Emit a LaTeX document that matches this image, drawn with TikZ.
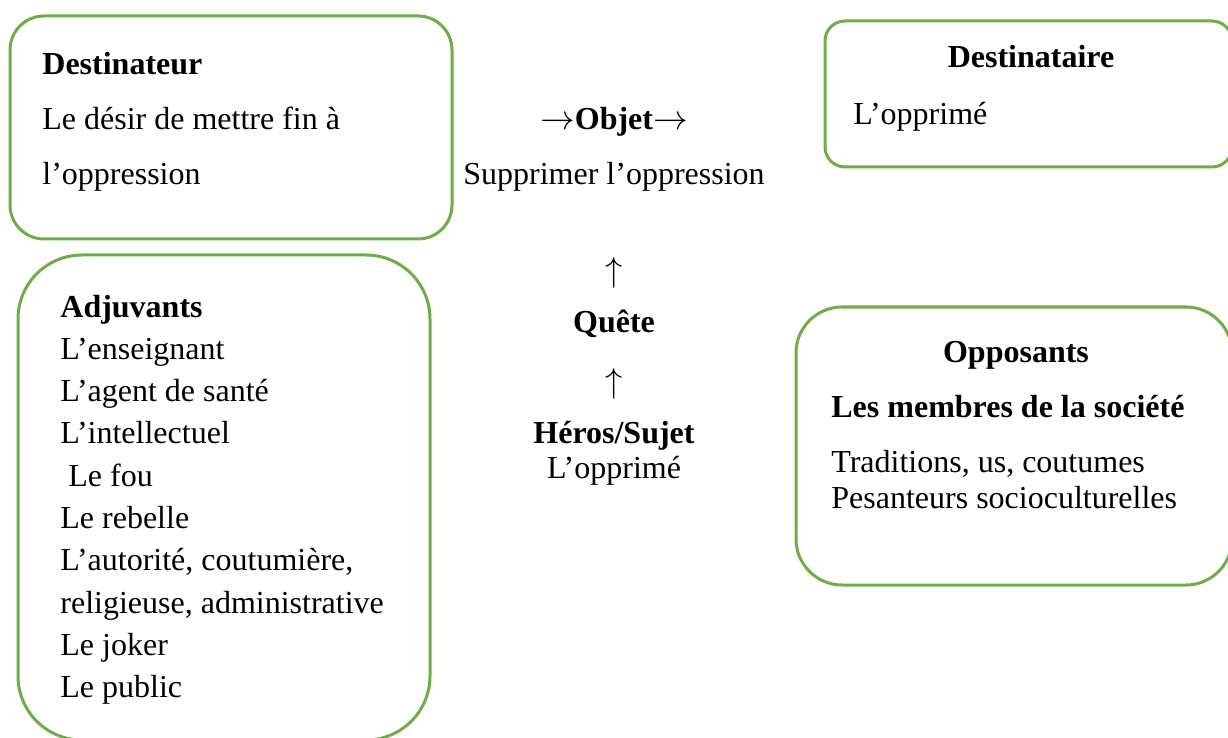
\documentclass[tikz,border=0pt]{standalone}
\usepackage{fontspec}
\setmainfont{Liberation Serif}
\usetikzlibrary{positioning}
\definecolor{vertcadre}{HTML}{70AD47}

\begin{document}
\begin{tikzpicture}[x=0.5pt,y=-0.5pt,
    cadre/.style={draw=vertcadre, line width=1.5pt},
    ligne/.style={anchor=base west, inner sep=0pt, font=\fontsize{16pt}{20pt}\selectfont},
    centre/.style={anchor=base, inner sep=0pt, font=\fontsize{16pt}{20pt}\selectfont}]
        \useasboundingbox (0,0) rectangle (1228,738);

        % Cadres arrondis
        \draw[cadre, rounded corners=17pt] (10,16) rectangle (452,239);    % destinateur
        \draw[cadre, rounded corners=10pt] (825,21) rectangle (1232,167);  % destinataire
        \draw[cadre, rounded corners=32pt] (18,255) rectangle (430,740);   % adjuvants
        \draw[cadre, rounded corners=23pt] (796,307) rectangle (1232,585); % opposants

        % Destinateur
        \node[ligne] (dest) at (42,75) {\textbf{Destinateur}};
        \node[ligne] (dest1) at (42,130) {Le désir de mettre fin à};
        \node[ligne] (dest2) at (42,185) {l’oppression};

        % Destinataire
        \node[centre] (desti) at (1031,68) {\textbf{Destinataire}};
        \node[ligne] (desti1) at (853,125) {L’opprimé};

        % Axe central
        \node[centre] (objet) at (614,130) {$\rightarrow$\textbf{Objet}$\rightarrow$};
        \node[centre] (objet1) at (614,185) {Supprimer l’oppression};
        \node[centre] (fl1) at (614,282) {$\uparrow$};
        \node[centre] (quete) at (614,333) {\textbf{Quête}};
        \node[centre] (fl2) at (614,393) {$\uparrow$};
        \node[centre] (heros) at (614,443) {\textbf{Héros/Sujet}};
        \node[centre] (heros1) at (614,478) {L’opprimé};

        % Adjuvants
        \node[ligne] (adj) at (60,317) {\textbf{Adjuvants}};
        \foreach \txt [count=\k] in {L’enseignant, L’agent de santé, L’intellectuel,
            {\ Le fou}, Le rebelle, {L’autorité, coutumière,},
            {religieuse, administrative}, Le joker, Le public} {
            \node[ligne] (adj\k) at (60, 317+\k*42.3) {\txt};
        }

        % Opposants
        \node[centre] (opp) at (1016,362) {\textbf{Opposants}};
        \node[ligne] (opp1) at (831,417) {\textbf{Les membres de la société}};
        \node[ligne] (opp2) at (831,472) {Traditions, us, coutumes};
        \node[ligne] (opp3) at (831,508) {Pesanteurs socioculturelles};
\end{tikzpicture}
\end{document}
